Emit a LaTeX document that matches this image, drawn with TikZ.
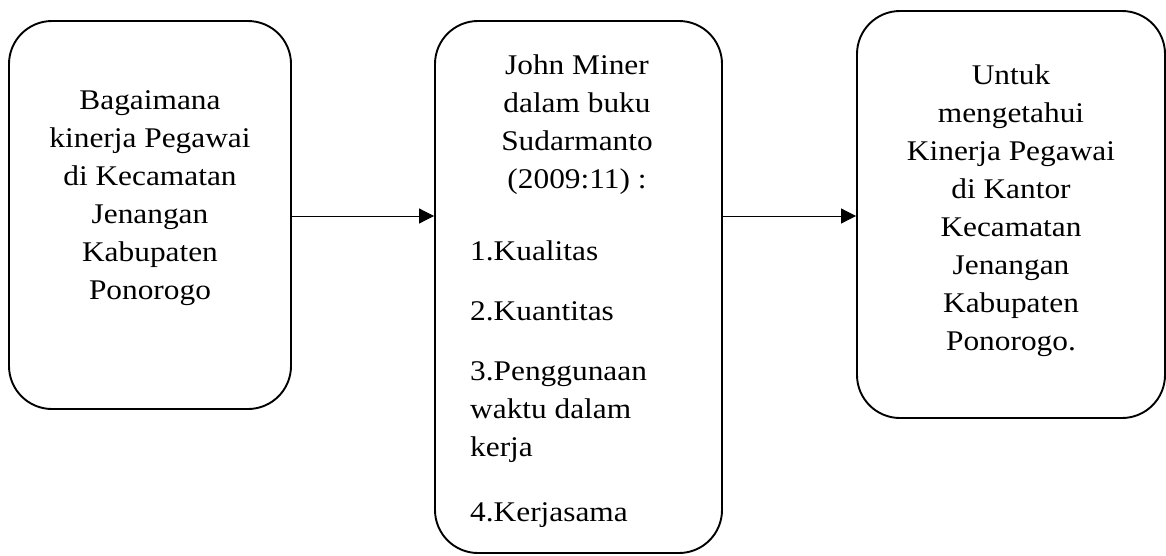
\documentclass[tikz,border=0pt]{standalone}
\usepackage{fontspec}
\setmainfont{Liberation Serif}[FakeStretch=1.1]
\usetikzlibrary{arrows.meta}
\begin{document}
\begin{tikzpicture}[x=1pt,y=-1pt,
  boxstyle/.style={draw=black, line width=1.9pt, rounded corners=43pt, inner sep=0pt},
  txt/.style={inner sep=0pt, font=\fontsize{28.5}{38}\selectfont},
  arr/.style={line width=1pt, -{Triangle[length=15pt,width=15pt]}}]
\useasboundingbox (0,0) rectangle (1166,555);
\node[boxstyle, minimum width=282pt, minimum height=388pt] (b1) at (150,215) {};
\node[boxstyle, minimum width=287pt, minimum height=532pt] (b2) at (578.5,287) {};
\node[boxstyle, minimum width=308pt, minimum height=407pt] (b3) at (1011,214.5) {};
\node[txt, align=center, anchor=north] (t1) at (150,90.5) {Bagaimana\\kinerja Pegawai\\di Kecamatan\\Jenangan\\Kabupaten\\Ponorogo};
\node[txt, align=center, anchor=north] (t2) at (577,54.5) {John Miner\\dalam buku\\Sudarmanto\\(2009:11) :};
\node[txt, align=left, anchor=north west] (t2b) at (470,240.5) {1.Kualitas\\[22pt]2.Kuantitas\\[22pt]3.Penggunaan\\waktu dalam\\kerja\\[27pt]4.Kerjasama};
\node[txt, align=center, anchor=north] (t3) at (1011,64.5) {Untuk\\mengetahui\\Kinerja Pegawai\\di Kantor\\Kecamatan\\Jenangan\\Kabupaten\\Ponorogo.};
\draw[arr] (b1.east |- 0,216) -- (b2.west |- 0,216);
\draw[arr] (b2.east |- 0,216) -- (b3.west |- 0,216);
\end{tikzpicture}
\end{document}
